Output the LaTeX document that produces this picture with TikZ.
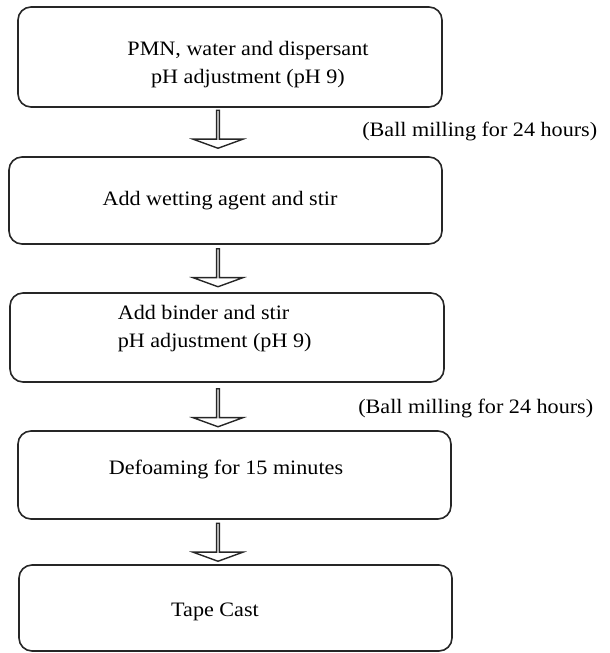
\documentclass[tikz,border=0pt]{standalone}
\usepackage{fontspec}
\setmainfont{Liberation Serif}[FakeStretch=1.08]
\usetikzlibrary{shapes.arrows}

\begin{document}
\begin{tikzpicture}[x=1pt, y=-1pt, line width=1.6pt, stepbox/.style={draw=black!85, rounded corners=13pt, inner sep=0pt}, txt/.style={inner sep=0pt, font=\fontsize{20.5}{28}\selectfont}, blockarrow/.style={draw=black!85, line width=1.4pt, single arrow, rotate=-90, inner sep=0pt, minimum height=38pt, minimum width=50pt, single arrow head extend=12pt, single arrow tip angle=140}]
    \useasboundingbox (0,0) rectangle (610,653);

    \node[stepbox, minimum width=424pt, minimum height=100pt] (mix) at (230,57) {};
    \node[stepbox, minimum width=433pt, minimum height=87pt] (wet) at (225.5,200.5) {};
    \node[stepbox, minimum width=434pt, minimum height=89pt] (bind) at (227,337.5) {};
    \node[stepbox, minimum width=433pt, minimum height=88pt] (defoam) at (234.5,475) {};
    \node[stepbox, minimum width=433pt, minimum height=86pt] (cast) at (235.5,608) {};

    \node[txt, align=center] (mixtext) at (248,65) {PMN, water and dispersant\\pH adjustment (pH 9)};
    \node[txt, anchor=base] (wettext) at (220,205) {Add wetting agent and stir};
    \node[txt, align=left, anchor=west] (bindtext) at (117,329) {Add binder and stir\\pH adjustment (pH 9)};
    \node[txt, anchor=base] (defoamtext) at (226,474) {Defoaming for 15 minutes};
    \node[txt, anchor=base] (casttext) at (215,616) {Tape Cast};

    \node[blockarrow] (mixarrow) at (218,129) {};
    \node[blockarrow] (wetarrow) at (218,267.5) {};
    \node[blockarrow] (bindarrow) at (218,407.5) {};
    \node[blockarrow] (defoamarrow) at (218,542) {};

    \node[txt, anchor=base east] (mill1) at (598,136) {(Ball milling for 24 hours)};
    \node[txt, anchor=base east] (mill2) at (594,413) {(Ball milling for 24 hours)};
\end{tikzpicture}
\end{document}
